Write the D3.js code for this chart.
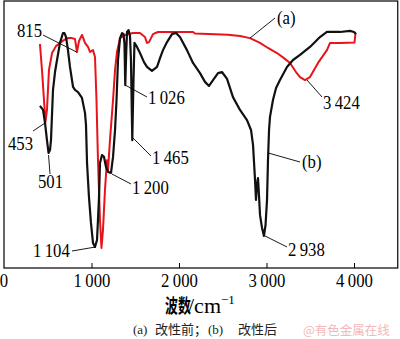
<!DOCTYPE html>
<html>
<head>
<meta charset="utf-8">
<script src="https://cdn.jsdelivr.net/npm/d3@7/dist/d3.min.js"></script>
<style>
  html, body { margin: 0; padding: 0; background: #fff; }
  svg { display: block; }
</style>
</head>
<body>
<svg id="chart" width="400" height="339"></svg>
<script>
// FTIR spectra: (a) before modification (red), (b) after modification (black)
const aWave = [411, 434, 457, 474, 491, 514, 549, 594, 640, 686, 731, 777, 811, 834, 857, 891, 926, 960, 983, 1017, 1040, 1057, 1074, 1097, 1114, 1131, 1154, 1177, 1189, 1211, 1246, 1269, 1291, 1326, 1383, 1474, 1554, 1611, 1634, 1657, 1703, 1760, 2160, 2183, 2560, 2697, 2811, 2926, 3017, 3120, 3200, 3269, 3337, 3383, 3440, 3497, 3589, 3691, 3726, 3840, 4006, 4017];
const aTrans = [83.9, 74.2, 62.9, 54.7, 59.2, 74.2, 80.5, 83.1, 84.3, 85.4, 86.1, 86.1, 85.8, 80.9, 85.0, 87.3, 84.3, 82.8, 80.9, 81.6, 79.0, 62.9, 40.4, 18.0, 7.5, 14.2, 29.2, 40.4, 36.7, 47.9, 62.9, 74.2, 80.9, 86.1, 87.3, 88.0, 88.0, 86.5, 84.3, 84.6, 87.6, 88.4, 88.4, 87.8, 87.4, 86.9, 86.1, 84.3, 82.4, 80.5, 78.6, 76.8, 73.4, 71.5, 70.4, 71.5, 76.8, 81.6, 84.3, 84.3, 84.5, 88.0];

const bWave = [411, 446, 469, 491, 509, 526, 537, 560, 583, 606, 640, 674, 691, 709, 731, 754, 789, 811, 846, 891, 926, 937, 949, 971, 994, 1017, 1040, 1063, 1074, 1086, 1097, 1120, 1143, 1166, 1189, 1223, 1246, 1269, 1286, 1303, 1326, 1349, 1366, 1377, 1386, 1397, 1406, 1423, 1440, 1451, 1466, 1480, 1491, 1520, 1554, 1600, 1634, 1691, 1749, 1783, 1817, 1863, 1920, 1966, 2011, 2091, 2160, 2240, 2297, 2343, 2389, 2446, 2491, 2549, 2617, 2697, 2777, 2823, 2846, 2869, 2880, 2891, 2903, 2914, 2926, 2949, 2971, 2989, 3006, 3017, 3029, 3040, 3074, 3109, 3154, 3234, 3303, 3383, 3497, 3611, 3691, 3840, 3954, 4000, 4023];
const bTrans = [60.7, 59.2, 54.3, 47.9, 43.1, 44.2, 47.9, 66.7, 73.4, 77.9, 84.3, 88.0, 88.0, 86.5, 81.6, 75.3, 67.8, 66.7, 65.9, 63.7, 58.0, 53.6, 39.3, 26.6, 16.9, 9.4, 7.9, 10.5, 18.0, 26.6, 39.3, 42.3, 41.6, 37.8, 36.0, 35.6, 41.6, 51.7, 62.9, 77.9, 86.1, 88.0, 87.6, 83.9, 68.5, 80.9, 88.4, 89.1, 86.9, 77.9, 47.9, 70.4, 84.3, 82.8, 80.5, 77.1, 75.3, 73.8, 75.3, 78.6, 81.6, 84.6, 87.6, 88.0, 86.5, 81.6, 76.8, 73.0, 69.7, 68.2, 70.4, 73.0, 73.4, 70.8, 64.0, 59.2, 55.4, 51.7, 46.1, 33.0, 25.5, 31.1, 33.7, 27.3, 19.8, 15.0, 12.0, 16.1, 25.5, 40.4, 51.7, 56.6, 62.9, 67.4, 70.4, 75.3, 77.9, 79.8, 82.8, 86.5, 88.4, 88.4, 88.8, 88.4, 87.6];

const xTicks = [1000, 2000, 3000, 4000];

// Peak annotations: label text, anchor point on the spectrum (wavenumber, transmittance)
const peakText  = ["815", "453", "501", "1\u2009104", "1\u2009200", "1\u2009465", "1\u2009026", "(a)", "3\u2009424", "(b)", "2\u2009938"];
const peakWave  = [829, 469, 509, 1051, 1234, 1474, 1386, 2811, 3463, 3017, 2983];
const peakTrans = [80.9, 54.3, 42.3, 7.9, 35.2, 48.7, 68.5, 86.1, 70.4, 43.1, 12.0];

// Label placement (left x, baseline y) and leader start point, in pixels
const labelLayout = [
  { tx: 17,  ty: 37,  lx: 43,  ly: 35 },
  { tx: 8,   ty: 150, lx: 33,  ly: 131 },
  { tx: 38,  ty: 188, lx: 50,  ly: 174 },
  { tx: 33,  ty: 257, lx: 72,  ly: 251 },
  { tx: 132, ty: 194, lx: 131, ly: 184 },
  { tx: 152, ty: 164, lx: 151, ly: 156 },
  { tx: 148, ty: 104, lx: 147, ly: 97 },
  { tx: 277, ty: 24,  lx: 275, ly: 18 },
  { tx: 323, ty: 109, lx: 322, ly: 97 },
  { tx: 302, ty: 168, lx: 300, ly: 162 },
  { tx: 288, ty: 256, lx: 287, ly: 247 }
];

const svg = d3.select("#chart");
const plotLeft = 4, plotRight = 397.75, plotTop = 1, plotBottom = 268;

const x = d3.scaleLinear().domain([0, 4500]).range([plotLeft, plotRight]);
const y = d3.scaleLinear().domain([0, 100]).range([plotBottom, plotTop]);

const serif = "'Liberation Serif', 'Times New Roman', serif";
const cjk = "'Noto Sans CJK SC', sans-serif";
const numScale = 0.88;

// Spectra
const line = d3.line().x(d => x(d[0])).y(d => y(d[1]));
const seriesA = aWave.map((w, i) => [w, aTrans[i]]);
const seriesB = bWave.map((w, i) => [w, bTrans[i]]);

svg.append("path").datum(seriesA)
  .attr("d", line).attr("fill", "none")
  .attr("stroke", "#e8141b").attr("stroke-width", 2)
  .attr("stroke-linejoin", "round");

svg.append("path").datum(seriesB)
  .attr("d", line).attr("fill", "none")
  .attr("stroke", "#111").attr("stroke-width", 2.2)
  .attr("stroke-linejoin", "round");

// Frame
svg.append("rect")
  .attr("x", plotLeft).attr("y", plotTop)
  .attr("width", plotRight - plotLeft).attr("height", plotBottom - plotTop)
  .attr("fill", "none").attr("stroke", "#000").attr("stroke-width", 1.2);

// Bottom axis with inward ticks
const axis = svg.append("g")
  .attr("transform", `translate(0,${plotBottom})`)
  .call(d3.axisBottom(x)
    .tickValues(xTicks)
    .tickSizeInner(-5)
    .tickSizeOuter(0)
    .tickFormat(d => d3.format(",")(d).replace(",", "\u2009")));
axis.select(".domain").remove();
axis.selectAll(".tick line").attr("stroke", "#000").attr("stroke-width", 1);
axis.selectAll(".tick text")
  .attr("y", 19).attr("dy", 0)
  .attr("transform", `scale(${numScale},1)`)
  .attr("font-family", serif).attr("font-size", 19).attr("fill", "#000");

// Zero label at the origin
svg.append("text")
  .attr("transform", `translate(${x(0)},${plotBottom + 19}) scale(${numScale},1)`)
  .attr("text-anchor", "middle")
  .attr("font-family", serif).attr("font-size", 19)
  .text("0");

// Peak labels and leader lines
peakText.forEach((t, i) => {
  const L = labelLayout[i];
  svg.append("line")
    .attr("x1", L.lx).attr("y1", L.ly)
    .attr("x2", x(peakWave[i])).attr("y2", y(peakTrans[i]))
    .attr("stroke", "#000").attr("stroke-width", 0.9);
  svg.append("text")
    .attr("transform", `translate(${L.tx},${L.ty}) scale(${numScale},1)`)
    .attr("font-family", serif).attr("font-size", 19)
    .attr("fill", "#000")
    .text(t);
});

// Axis title: 波数/cm⁻¹
const title = svg.append("g");
title.append("text")
  .attr("transform", `translate(165,313) scale(0.68,1)`)
  .attr("font-family", cjk).attr("font-size", 19).attr("font-weight", 700)
  .text("波数");
const unit = title.append("text")
  .attr("x", 188).attr("y", 313)
  .attr("font-family", serif).attr("font-size", 22);
unit.append("tspan").text("/cm");
unit.append("tspan").attr("dy", -9).attr("font-size", 13).text("\u22121");

// Caption: (a) 改性前；(b) 改性后
const caption = svg.append("text")
  .attr("y", 334).attr("font-size", 13).attr("fill", "#222");
caption.append("tspan").attr("x", 133).attr("font-family", serif).text("(a)");
caption.append("tspan").attr("x", 155).attr("font-family", cjk).text("改性前；");
caption.append("tspan").attr("x", 208).attr("font-family", serif).text("(b)");
caption.append("tspan").attr("x", 238).attr("font-family", cjk).text("改性后");

// Source mark
svg.append("text")
  .attr("x", 303).attr("y", 335)
  .attr("font-family", cjk).attr("font-size", 12.5)
  .attr("fill", "#f3b8b8")
  .text("@有色金属在线");
</script>
</body>
</html>
